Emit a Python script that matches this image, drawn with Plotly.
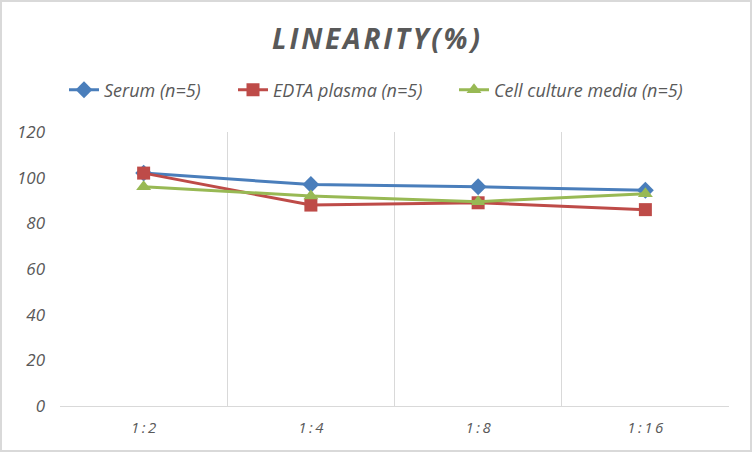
import plotly.graph_objects as go

categories = ["1:2", "1:4", "1:8", "1:16"]
tick_labels = ["1\u2009:\u20092", "1\u2009:\u20094", "1\u2009:\u20098", "1\u2009:\u20091\u20096"]
serum = [102, 97, 96, 94.5]
edta = [102, 88, 89, 86]
cell = [96, 92, 89.5, 93]

series_names = ["Serum (n=5)", "EDTA plasma (n=5)", "Cell culture media (n=5)"]
colors = ["#4a7ebb", "#be4b48", "#98b954"]
symbols = ["diamond", "square", "triangle-up"]
sizes = [13, 13, 13]

font_family = "Open Sans, Liberation Sans, sans-serif"
L, R, T, B = 60, 23, 132, 46
W, H = 752, 452
pw, ph = W - L - R, H - T - B

legend_ids = ["legend", "legend2", "legend3"]
legend_px = [64, 233, 454]

fig = go.Figure()
for name, vals, c, s, sz, lg in zip(series_names, [serum, edta, cell], colors, symbols, sizes, legend_ids):
    fig.add_trace(go.Scatter(
        x=categories, y=vals, name=name, mode="lines+markers",
        line=dict(color=c, width=3),
        marker=dict(symbol=s, size=sz, color=c),
        legend=lg,
    ))

title_text = "\u200a".join("LINEARITY(%)")

legend_common = dict(
    orientation="h", yanchor="middle", y=1 + (T - 90) / ph, xanchor="left",
    font=dict(family=font_family, size=18, color="#595959", style="italic"),
    itemwidth=30, bgcolor="rgba(0,0,0,0)",
)

fig.update_layout(
    width=W, height=H,
    paper_bgcolor="white", plot_bgcolor="white",
    margin=dict(l=L, r=R, t=T, b=B, autoexpand=False),
    title=dict(
        text="<b><i>" + title_text + "</i></b>",
        x=0.5, xref="container", xanchor="center",
        y=1 - 39 / H, yref="container", yanchor="middle",
        font=dict(family=font_family, size=28, color="#595959"),
    ),
    legend=dict(x=(legend_px[0] - L) / pw, **legend_common),
    legend2=dict(x=(legend_px[1] - L) / pw, **legend_common),
    legend3=dict(x=(legend_px[2] - L) / pw, **legend_common),
    showlegend=True,
)
fig.update_xaxes(
    type="category", categoryorder="array", categoryarray=categories,
    range=[-0.5, 3.5], automargin=False,
    tickvals=categories, ticktext=tick_labels,
    tickson="boundaries", showgrid=True, gridcolor="#d9d9d9", gridwidth=1,
    showline=True, linecolor="#d9d9d9", linewidth=1,
    ticks="", ticklen=0, ticklabelstandoff=8,
    tickfont=dict(family=font_family, size=15, color="#595959", style="italic"),
    zeroline=False,
)
fig.update_yaxes(
    range=[0, 120], dtick=20, showgrid=False, automargin=False,
    showline=False, zeroline=False, ticks="",
    tickfont=dict(family=font_family, size=17, color="#595959", style="italic"),
    ticklabelstandoff=14,
)
fig.add_shape(type="rect", xref="paper", yref="paper",
              x0=-(L - 1) / pw, x1=1 + (R - 1) / pw,
              y0=-(B - 1) / ph, y1=1 + (T - 1) / ph,
              line=dict(color="#d9d9d9", width=2))

fig.write_html("out.html", config={"displayModeBar": False},
               post_script="document.body.style.margin='0';document.body.style.overflow='hidden';")
